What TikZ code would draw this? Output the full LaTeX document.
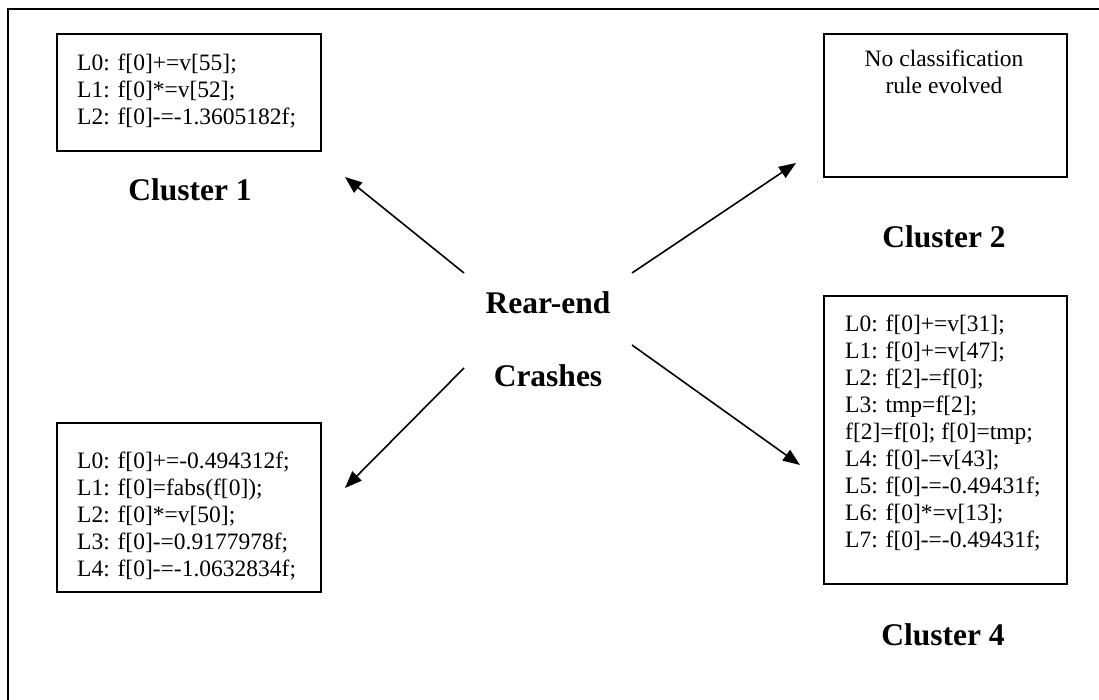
\documentclass[tikz,border=0pt]{standalone}
\usepackage{fontspec}
\setmainfont{Liberation Serif}
\usetikzlibrary{arrows.meta}
\begin{document}
\begin{tikzpicture}[x=1pt,y=-1pt,
  frame/.style={line width=2.2pt},
  codebox/.style={draw, line width=2pt, rectangle, inner sep=0pt, anchor=north west},
  codetext/.style={inner sep=0pt, anchor=north west, align=left, font=\fontsize{23.5}{27}\selectfont},
  clabel/.style={inner sep=0pt, font=\fontsize{31.5}{36}\selectfont\bfseries},
  hubtext/.style={inner sep=0pt, anchor=north, align=center, font=\fontsize{31.5}{73}\selectfont\bfseries},
  link/.style={line width=1.6pt, -{Triangle[length=17pt,width=13pt]}}]
\useasboundingbox (0,0) rectangle (1099,700);
% outer frame (top and left edges)
\draw[frame] (8,700) -- (8,9) -- (1099,9);
% boxes
\node[codebox, minimum width=264pt, minimum height=117pt] (box1) at (56,33) {};
\node[codebox, minimum width=243pt, minimum height=143pt] (box2) at (823,33) {};
\node[codebox, minimum width=264pt, minimum height=169pt] (box3) at (56,422) {};
\node[codebox, minimum width=243pt, minimum height=288pt] (box4) at (823,295) {};
% box texts
\node[codetext] (text1) at (77,53.6) {L0: f[0]+=v[55];\\L1: f[0]*=v[52];\\L2: f[0]-=-1.3605182f;};
\node[codetext, anchor=north, align=center] (text2) at (944,50) {No classification\\rule evolved};
\node[codetext] (text3) at (77,451.6) {L0: f[0]+=-0.494312f;\\L1: f[0]=fabs(f[0]);\\L2: f[0]*=v[50];\\L3: f[0]-=0.9177978f;\\L4: f[0]-=-1.0632834f;};
\node[codetext] (text4) at (845,314.6) {L0: f[0]+=v[31];\\L1: f[0]+=v[47];\\L2: f[2]-=f[0];\\L3: tmp=f[2];\\f[2]=f[0]; f[0]=tmp;\\L4: f[0]-=v[43];\\L5: f[0]-=-0.49431f;\\L6: f[0]*=v[13];\\L7: f[0]-=-0.49431f;};
% cluster labels
\node[clabel] (lab1) at (190,190) {Cluster 1};
\node[clabel] (lab2) at (944,237) {Cluster 2};
\node[clabel] (lab4) at (943,635) {Cluster 4};
% hub
\node[hubtext] (hub) at (548,291) {Rear-end\\Crashes};
% arrow ends
\coordinate (t1) at (464,273);
\coordinate (h1) at (345,177);
\coordinate (t2) at (632,273);
\coordinate (h2) at (796,163);
\coordinate (t3) at (464,368);
\coordinate (h3) at (345,488);
\coordinate (t4) at (632,345);
\coordinate (h4) at (800,465);
\draw[link] (t1) -- (h1);
\draw[link] (t2) -- (h2);
\draw[link] (t3) -- (h3);
\draw[link] (t4) -- (h4);
\end{tikzpicture}
\end{document}
